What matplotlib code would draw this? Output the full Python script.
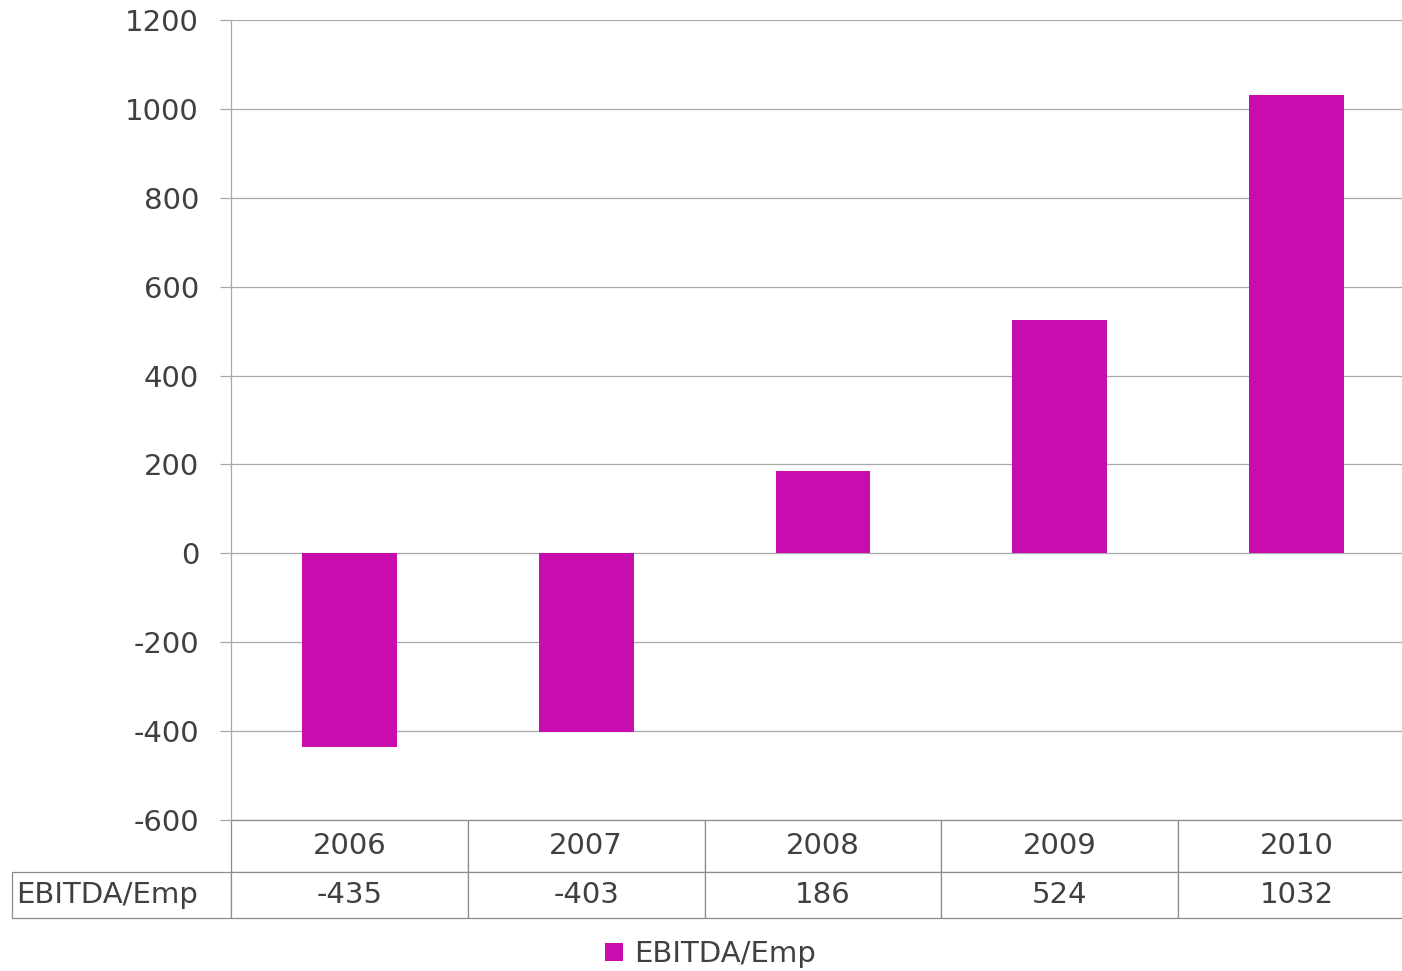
import numpy as np
import matplotlib
matplotlib.use("Agg")
from matplotlib import pyplot as plt
from matplotlib.table import Table
from matplotlib.patches import Patch

# data
years = ["2006", "2007", "2008", "2009", "2010"]
ebitda_emp = [-435, -403, 186, 524, 1032]
series_name = "EBITDA/Emp"
y_ticks = [-600, -400, -200, 0, 200, 400, 600, 800, 1000, 1200]

bar_color = "#c70daf"
grid_color = "#a8a8a8"
text_color = "#404040"
fsize = 21

plt.rcParams['font.family'] = ['DejaVu Sans']

fig = plt.figure(figsize=(14.02, 9.71), dpi=100)
# the plot area runs a bit past the right edge of the picture
ax_w = 5 * 236.8
ax = fig.add_axes([231 / 1402, 1 - 820 / 971, ax_w / 1402, 800 / 971])

x = np.arange(len(years))
ax.bar(x, ebitda_emp, width=0.4, color=bar_color, zorder=3)

ax.set_xlim(-0.5, len(years) - 0.5)
ax.set_ylim(y_ticks[0], y_ticks[-1])
ax.set_yticks(y_ticks)
ax.set_yticklabels([str(v) for v in y_ticks])
ax.set_xticks([])
ax.yaxis.grid(True, color=grid_color, linewidth=0.9, zorder=0)
ax.tick_params(axis='y', length=8, width=0.9, color=grid_color, pad=15,
               labelsize=fsize, labelcolor=text_color)

for side in ["top", "right", "bottom"]:
    ax.spines[side].set_visible(False)
ax.spines["left"].set_color(grid_color)
ax.spines["left"].set_linewidth(0.9)

# data table below the plot
label_w = 219 / ax_w
tbl = Table(ax, bbox=[-label_w, -98 / 800, 1 + label_w, 98 / 800])
col_w = 1 / len(years)
for j, yr in enumerate(years):
    tbl.add_cell(0, j + 1, col_w, 52, text=yr, loc='center')
    tbl.add_cell(1, j + 1, col_w, 46, text=str(ebitda_emp[j]), loc='center')
tbl.add_cell(1, 0, label_w, 46, text=series_name, loc='left')
tbl.auto_set_font_size(False)
for (r, cidx), cell in tbl.get_celld().items():
    cell.set_edgecolor("#8c8c8c")
    cell.set_linewidth(0.9)
    cell.get_text().set_fontsize(fsize)
    cell.get_text().set_color(text_color)
    cell.PAD = 0.02
ax.add_table(tbl)

handle = Patch(facecolor=bar_color, edgecolor='none')
fig.legend([handle], [series_name], loc='center', bbox_to_anchor=(0.507, 0.017),
           frameon=False, handlelength=0.6, handleheight=0.6, handletextpad=0.4,
           prop={'size': fsize}, labelcolor=text_color)

fig.savefig("out.png", dpi=100)
